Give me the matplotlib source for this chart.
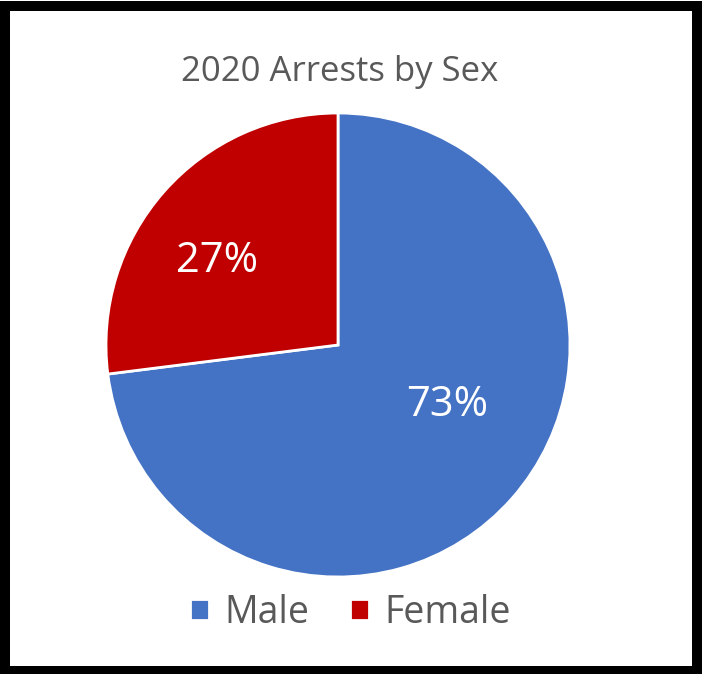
import matplotlib.pyplot as plt
from matplotlib.patches import Rectangle

labels = ['Male', 'Female']
shares = [73, 27]
colors = ['#4472C4', '#C00000']

W, H = 702, 674
fig = plt.figure(figsize=(W / 100, H / 100), dpi=100)
plt.rcParams['font.family'] = ['Open Sans', 'DejaVu Sans']

# pie area: center ~ (338, 345) px, radius ~232 px
cx, cy, r = 338, 345, 232
ax = fig.add_axes([(cx - r) / W, (H - cy - r) / H, 2 * r / W, 2 * r / H])
wedges, texts, autotexts = ax.pie(shares, colors=colors, startangle=90, counterclock=False,
                                  autopct='%d%%', pctdistance=0.6,
                                  wedgeprops=dict(edgecolor='white', linewidth=2),
                                  textprops=dict(color='white', fontsize=30))
# nudge labels to where Excel put them
autotexts[0].set_position((0.47, -0.26))
autotexts[1].set_position((-0.52, 0.36))
ax.set_xlim(-1, 1)
ax.set_ylim(-1, 1)
ax.set_aspect('equal')
ax.axis('off')

fig.text(0.484, (H - 72) / H, '2020 Arrests by Sex', ha='center', va='center',
         fontsize=25, color='#595959')

fig.legend(wedges, labels, loc='center', bbox_to_anchor=(0.499, (H - 613) / H), ncol=2,
           frameon=False, fontsize=27, labelcolor='#595959', handlelength=0.5,
           handleheight=0.5, handletextpad=0.4, columnspacing=1.1)

# black frame around the picture (bottom edge a bit thinner)
fig.patches.append(Rectangle((5 / W, 3 / H), 1 - 10 / W, 1 - 9 / H, transform=fig.transFigure,
                             fill=False, edgecolor='black', linewidth=7.2))

fig.savefig('out.png', dpi=100)
